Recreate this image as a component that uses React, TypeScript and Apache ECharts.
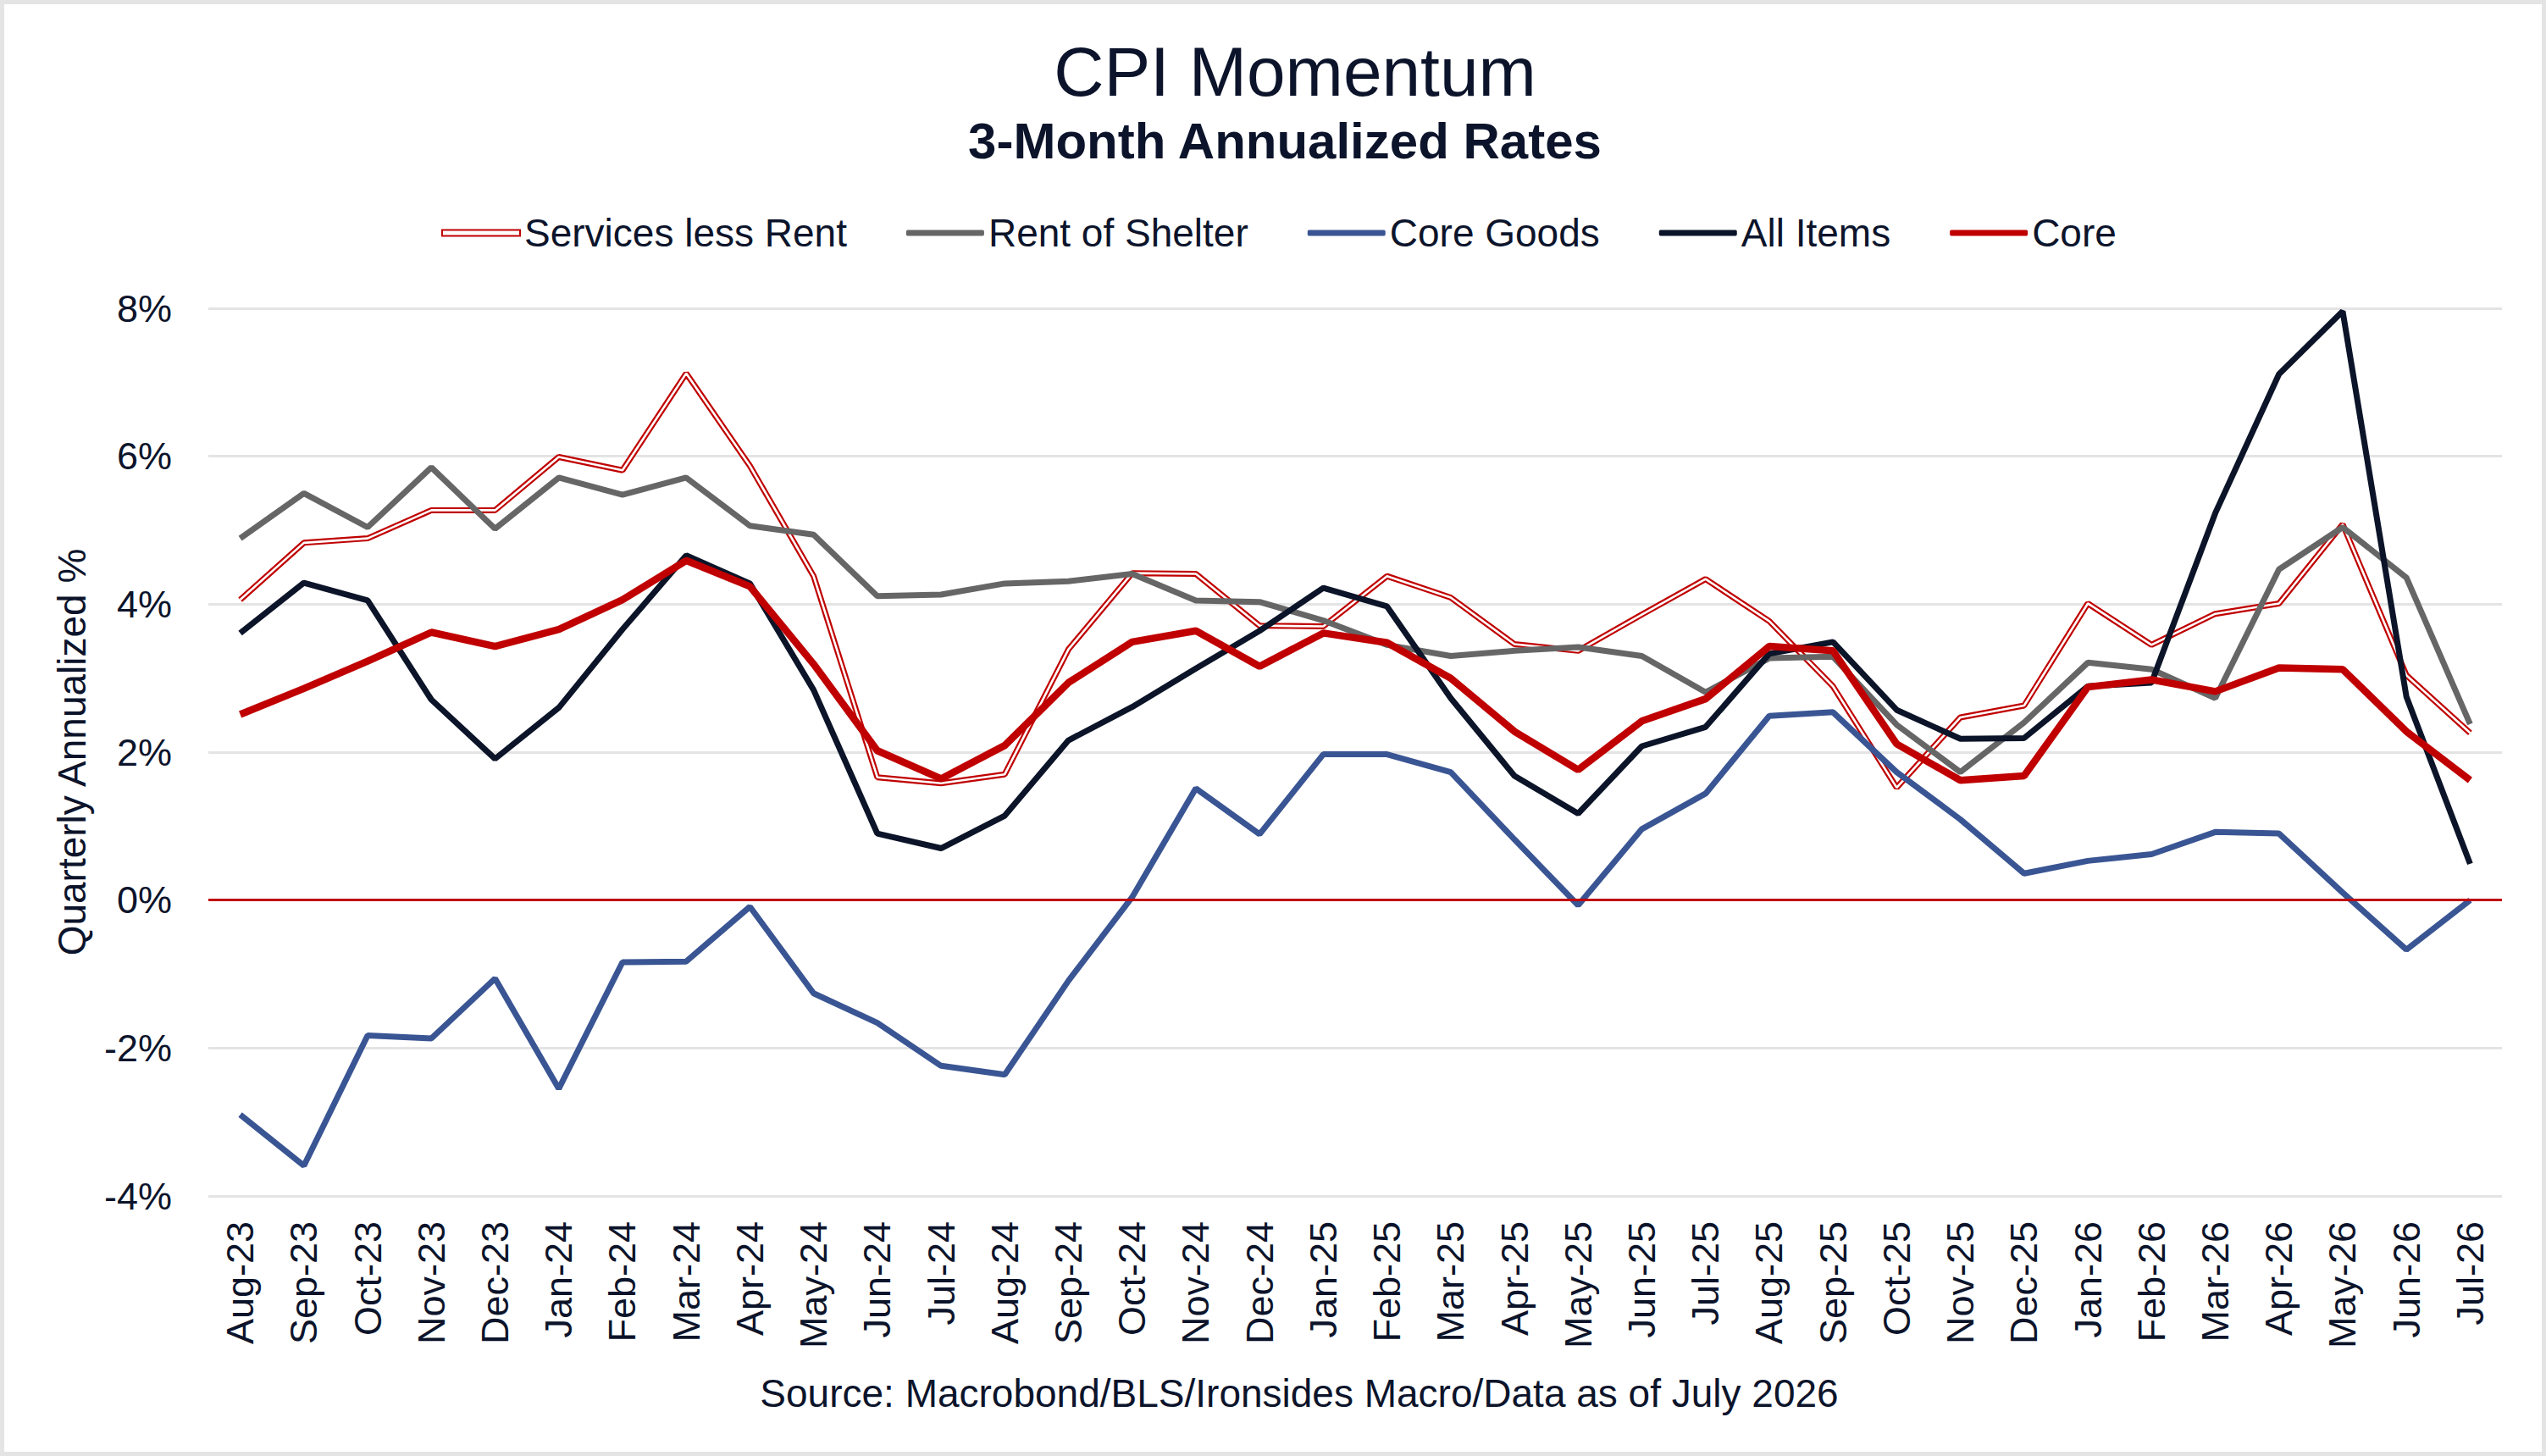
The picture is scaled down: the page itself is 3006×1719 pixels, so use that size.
import { useEffect, useRef } from 'react';
import * as echarts from 'echarts';

const months = [
  'Aug-23', 'Sep-23', 'Oct-23', 'Nov-23', 'Dec-23', 'Jan-24', 'Feb-24', 'Mar-24', 'Apr-24',
  'May-24', 'Jun-24', 'Jul-24', 'Aug-24', 'Sep-24', 'Oct-24', 'Nov-24', 'Dec-24', 'Jan-25',
  'Feb-25', 'Mar-25', 'Apr-25', 'May-25', 'Jun-25', 'Jul-25', 'Aug-25', 'Sep-25', 'Oct-25',
  'Nov-25', 'Dec-25', 'Jan-26', 'Feb-26', 'Mar-26', 'Apr-26', 'May-26', 'Jun-26', 'Jul-26',
];

const servicesLessRent = [
  4.06, 4.83, 4.89, 5.27, 5.27, 5.99, 5.81, 7.12, 5.87, 4.38, 1.66, 1.58, 1.7, 3.39, 4.42, 4.41,
  3.71, 3.7, 4.38, 4.09, 3.46, 3.37, 3.86, 4.34, 3.77, 2.89, 1.52, 2.47, 2.63, 4.01, 3.45, 3.87,
  4.01, 5.08, 3.04, 2.26,
];

const rentOfShelter = [
  4.89, 5.5, 5.04, 5.85, 5.02, 5.71, 5.48, 5.71, 5.06, 4.94, 4.11, 4.13, 4.28, 4.31, 4.41, 4.05,
  4.03, 3.78, 3.45, 3.3, 3.37, 3.42, 3.3, 2.81, 3.27, 3.29, 2.37, 1.73, 2.4, 3.21, 3.12, 2.73,
  4.47, 5.04, 4.36, 2.38,
];

const coreGoods = [
  -2.9, -3.59, -1.83, -1.87, -1.06, -2.55, -0.84, -0.83, -0.09, -1.26, -1.66, -2.24, -2.36, -1.09,
  0.04, 1.51, 0.89, 1.97, 1.97, 1.73, 0.82, -0.07, 0.96, 1.44, 2.49, 2.54, 1.73, 1.09, 0.36, 0.53,
  0.62, 0.92, 0.9, 0.1, -0.67, 0.0,
];

const allItems = [
  3.61, 4.29, 4.05, 2.71, 1.91, 2.6, 3.66, 4.66, 4.28, 2.84, 0.9, 0.7, 1.14, 2.16, 2.61, 3.13,
  3.64, 4.22, 3.97, 2.73, 1.68, 1.17, 2.08, 2.34, 3.33, 3.49, 2.57, 2.18, 2.19, 2.89, 2.94, 5.23,
  7.11, 7.96, 2.75, 0.49,
];

const core = [
  2.51, 2.86, 3.23, 3.62, 3.43, 3.66, 4.06, 4.59, 4.24, 3.19, 2.02, 1.64, 2.09, 2.94, 3.49, 3.64,
  3.16, 3.61, 3.48, 3.0, 2.28, 1.76, 2.42, 2.72, 3.43, 3.37, 2.11, 1.62, 1.68, 2.88, 2.98, 2.82,
  3.14, 3.12, 2.28, 1.62,
];

const yTicks = { min: -4, max: 8, step: 2 };

const FONT = '"Liberation Sans", Arial, sans-serif';
const INK = '#0c142b';
const RED = '#c00000';
const GRAY = '#666666';
const BLUE = '#3a5593';
const NAVY = '#0b1428';

export default function App() {
  const chartRef = useRef<HTMLDivElement>(null);

  useEffect(() => {
    if (!chartRef.current) return;
    const chart = echarts.init(chartRef.current, undefined, { renderer: 'svg' });

    const option: any = {
      animation: false,
      backgroundColor: '#ffffff',
      textStyle: { fontFamily: FONT },
      graphic: [
        {
          type: 'rect',
          shape: { x: 2.5, y: 2.5, width: 3001, height: 1714 },
          style: { fill: 'none', stroke: '#e4e4e4', lineWidth: 5 },
          silent: true,
        },
        {
          type: 'text',
          x: 1529,
          y: 84,
          style: {
            text: 'CPI Momentum',
            fontSize: 82,
            fontFamily: FONT,
            fill: INK,
            align: 'center',
            verticalAlign: 'middle',
          },
        },
        {
          type: 'text',
          x: 1517,
          y: 166,
          style: {
            text: '3-Month Annualized Rates',
            fontSize: 60,
            fontWeight: 'bold',
            fontFamily: FONT,
            fill: INK,
            align: 'center',
            verticalAlign: 'middle',
          },
        },
        {
          type: 'text',
          x: 1534,
          y: 1645,
          style: {
            text: 'Source: Macrobond/BLS/Ironsides Macro/Data as of July 2026',
            fontSize: 46,
            fontFamily: FONT,
            fill: INK,
            align: 'center',
            verticalAlign: 'middle',
          },
        },
      ],
      legend: {
        top: 252,
        left: 521,
        padding: 0,
        itemGap: 70,
        itemWidth: 92,
        itemHeight: 7,
        textStyle: { fontSize: 46, color: INK, fontFamily: FONT },
        data: [
          {
            name: 'Services less Rent',
            icon: 'rect',
            itemStyle: { color: '#ffffff', borderColor: RED, borderWidth: 2 },
          },
          { name: 'Rent of Shelter', icon: 'roundRect', itemStyle: { color: GRAY } },
          { name: 'Core Goods', icon: 'roundRect', itemStyle: { color: BLUE } },
          { name: 'All Items', icon: 'roundRect', itemStyle: { color: NAVY } },
          { name: 'Core', icon: 'roundRect', itemStyle: { color: RED } },
        ],
      },
      grid: {
        left: 246,
        right: 52,
        top: 364,
        bottom: 307,
        containLabel: false,
        outerBoundsMode: 'none',
      },
      xAxis: {
        type: 'category',
        data: months,
        boundaryGap: true,
        axisLine: { show: false },
        axisTick: { show: false },
        axisLabel: {
          rotate: 90,
          interval: 0,
          margin: 30,
          fontSize: 45,
          color: INK,
          fontFamily: FONT,
        },
      },
      yAxis: {
        type: 'value',
        min: yTicks.min,
        max: yTicks.max,
        interval: yTicks.step,
        name: 'Quarterly Annualized %',
        nameLocation: 'middle',
        nameGap: 138,
        nameTextStyle: { fontSize: 46, color: INK, fontFamily: FONT },
        axisLine: { show: false },
        axisTick: { show: false },
        axisLabel: {
          formatter: '{value}%',
          margin: 43,
          fontSize: 45,
          color: INK,
          fontFamily: FONT,
        },
        splitLine: { lineStyle: { color: '#e4e4e4', width: 3 } },
      },
      series: [
        {
          name: 'Services less Rent',
          type: 'line',
          data: servicesLessRent,
          symbol: 'none',
          silent: true,
          itemStyle: { color: RED },
          lineStyle: { color: RED, width: 7 },
          markLine: {
            silent: true,
            symbol: ['none', 'none'],
            label: { show: false },
            lineStyle: { color: RED, width: 3, type: 'solid' },
            data: [{ yAxis: 0 }],
          },
        },
        {
          name: 'Services less Rent inner',
          type: 'line',
          data: servicesLessRent,
          symbol: 'none',
          silent: true,
          lineStyle: { color: '#ffffff', width: 2.6 },
        },
        {
          name: 'Rent of Shelter',
          type: 'line',
          data: rentOfShelter,
          symbol: 'none',
          silent: true,
          itemStyle: { color: GRAY },
          lineStyle: { color: GRAY, width: 7 },
        },
        {
          name: 'Core Goods',
          type: 'line',
          data: coreGoods,
          symbol: 'none',
          silent: true,
          itemStyle: { color: BLUE },
          lineStyle: { color: BLUE, width: 7 },
        },
        {
          name: 'All Items',
          type: 'line',
          data: allItems,
          symbol: 'none',
          silent: true,
          itemStyle: { color: NAVY },
          lineStyle: { color: NAVY, width: 7 },
        },
        {
          name: 'Core',
          type: 'line',
          data: core,
          symbol: 'none',
          silent: true,
          itemStyle: { color: RED },
          lineStyle: { color: RED, width: 8.5 },
        },
      ],
    };

    chart.setOption(option);

    return () => {
      chart.dispose();
    };
  }, []);

  return (
    <div
      ref={chartRef}
      style={{ position: 'fixed', left: 0, top: 0, width: 3006, height: 1719 }}
    />
  );
}
